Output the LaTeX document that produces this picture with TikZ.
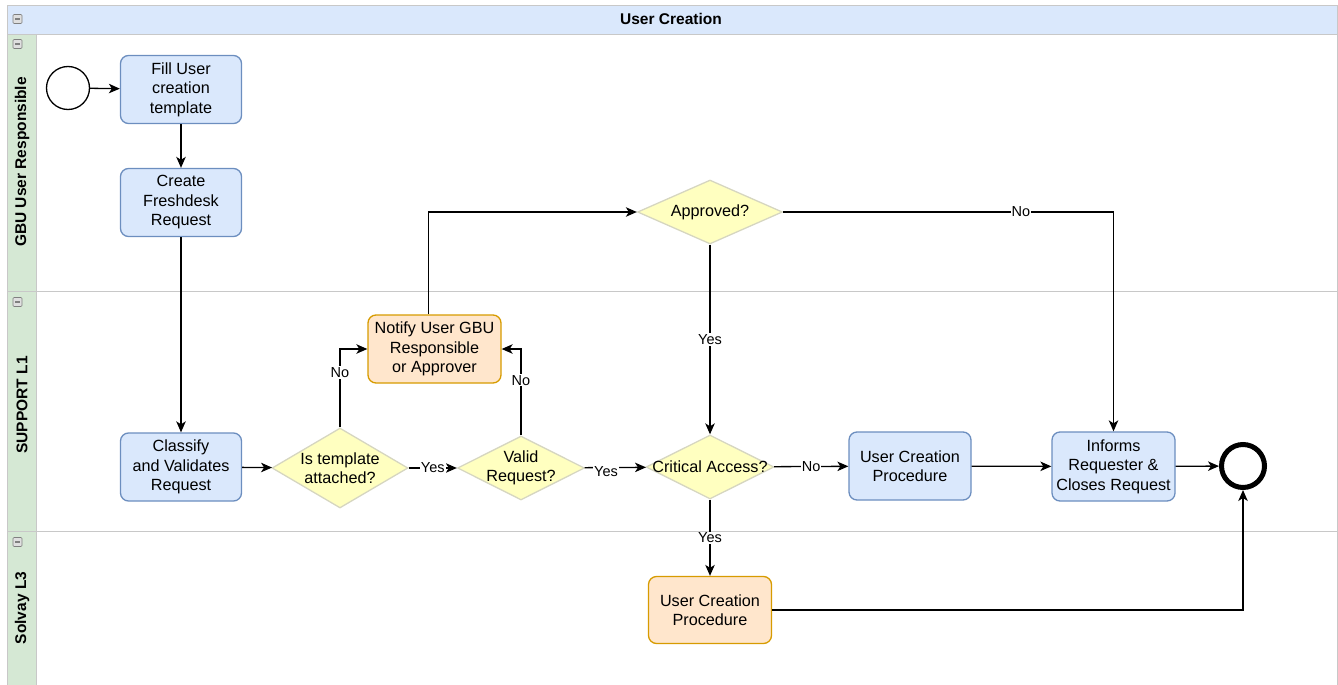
\documentclass[tikz,border=0pt]{standalone}
\usepackage{fontspec}
\setmainfont{Liberation Sans}
\usepackage{xcolor}
\usepackage{tikz}
\usetikzlibrary{calc, shapes, arrows.meta, positioning}
\definecolor{taskfill}{HTML}{DAE8FC}
\definecolor{taskline}{HTML}{6C8EBF}
\definecolor{orangefill}{HTML}{FFE6CC}
\definecolor{orangeline}{HTML}{D79B00}
\definecolor{gatefill}{HTML}{FFFFC0}
\definecolor{gateline}{HTML}{D6D6C0}
\definecolor{lanefill}{HTML}{D5E8D4}
\definecolor{laneline}{HTML}{C8C8C8}

\begin{document}
\begin{tikzpicture}[x=1pt, y=-1pt, font=\fontsize{16.2}{19.5}\selectfont, line width=1.3pt,
			>={Stealth[length=11pt, width=9.5pt, inset=3pt]},
			task/.style={draw=taskline, fill=taskfill, rounded corners=8pt, align=center, minimum width=121pt, minimum height=68pt, inner sep=2pt, node distance={113pt}},
			l3task/.style={task, draw=orangeline, fill=orangefill},
			gate/.style={draw=gateline, fill=gatefill, diamond, inner sep=0pt},
			event/.style={draw, circle, minimum size=43pt, inner sep=0pt},
			lbl/.style={fill=white, inner sep=1pt, font=\fontsize{14.5}{17}\selectfont},
			lane/.style={draw=laneline, line width=0.9pt},
			fold/.style={draw=gray, fill=gray!25, rounded corners=1pt, minimum size=9pt, inner sep=0pt, line width=0.6pt,
				path picture={\draw[line width=1.3pt] ([xshift=2pt]path picture bounding box.west) -- ([xshift=-2pt]path picture bounding box.east);}}
			]
			\useasboundingbox (0,0) rectangle (1338,685);
			% pool and lanes
			\draw[lane, fill=taskfill] (7,5) rectangle (1337,34);
			\draw[lane, fill=lanefill] (7,34) rectangle (36,700);
			\draw[lane] (36,34) rectangle (1337,700);
			\draw[lane] (7,291) -- (1337,291);
			\draw[lane] (7,531) -- (1337,531);
			\node[font=\bfseries\fontsize{15.5}{18}\selectfont](pool) at (671,19) {User Creation};
			\node[font=\bfseries\fontsize{15.5}{18}\selectfont, rotate=90](gbu) at (22,162) {GBU User Responsible};
			\node[font=\bfseries\fontsize{15.5}{18}\selectfont, rotate=90](sup) at (22,405) {SUPPORT L1};
			\node[font=\bfseries\fontsize{15.5}{18}\selectfont, rotate=90](sol) at (22,608) {Solvay L3};
			\node [fold](f0) at (17.5,19) {};
			\node [fold](f1) at (17.5,44) {};
			\node [fold](f2) at (17.5,302) {};
			\node [fold](f3) at (17.5,542) {};

			% flow nodes
			\node [event](start) at (68,88) {};
			\node [task](fill) at (181,89.5) {Fill User\\creation\\template};
			\node [task](create) [below of=fill] {Create\\Freshdesk\\Request};
			\node [task, node distance={264.5pt}](classify) [below of=create] {Classify\\and Validates\\Request};
			\node [gate, minimum width=136pt, minimum height=80pt, label={[align=center]center:Is template\\attached?}](tmpl) at (340,468) {};
			\node [gate, minimum width=127pt, minimum height=64pt, label={[align=center]center:Valid\\Request?}](valid) at (521,468) {};
			\node [l3task, minimum width=133pt](notify) at (434.5,349) {Notify User GBU\\Responsible\\or Approver};
			\node [gate, minimum width=145pt, minimum height=64pt, label={center:Approved?}](appr) at (710,212) {};
			\node [gate, minimum width=128pt, minimum height=64pt, label={center:Critical Access?}](crit) at (710,467) {};
			\node [task, minimum width=122pt](proc1) at (910,466) {User Creation\\Procedure};
			\node [task, minimum width=123pt, minimum height=69pt](inform) at (1113.5,466.5) {Informs\\Requester \&\\Closes Request};
			\node [draw, circle, line width=5pt, minimum size=43pt, inner sep=0pt](end) at (1243,466) {};
			\node [l3task, minimum width=123pt, minimum height=67pt](proc2) at (710,610) {User Creation\\Procedure};

			% connectors
			\draw[black, ->] (start) -- (fill);
			\draw[black, ->] (fill) -- (create);
			\draw[black, ->] (create) -- (classify);
			\draw[black, ->] (classify) -- (tmpl);
			\draw[black, ->] (tmpl) -- (valid) node[midway, lbl] {Yes};
			\draw[black, ->] (tmpl.north) |- (notify.west) node[pos=0.35, lbl] {No};
			\draw[black, ->] (valid.north) |- (notify.east) node[pos=0.32, lbl] {No};
			\draw[black, ->] ([xshift=-6pt]notify.north) |- (appr.west);
			\draw[black, ->] (valid) -- (crit) node[pos=0.35, lbl, yshift=-4pt] {Yes};
			\draw[black, ->] (appr) -- (crit) node[midway, lbl] {Yes};
			\draw[black, ->] (appr.east) -| (inform.north) node[pos=0.36, lbl] {No};
			\draw[black, ->] (crit) -- (proc1) node[midway, lbl] {No};
			\draw[black, ->] (crit) -- (proc2) node[midway, lbl] {Yes};
			\draw[black, ->] (proc1) -- (inform);
			\draw[black, ->] (inform) -- (end);
			\draw[black, ->] (proc2.east) -| (end.south);
		\end{tikzpicture}
\end{document}
